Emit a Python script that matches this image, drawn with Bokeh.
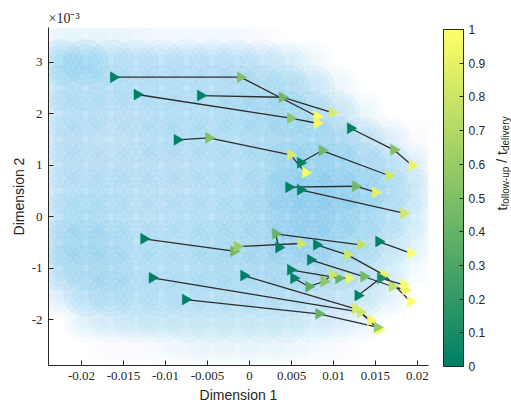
import numpy as np
from bokeh.plotting import figure
from bokeh.layouts import row
from bokeh.models import (Range1d, FixedTicker, NumeralTickFormatter, ColorBar,
                          LinearColorMapper, Label, ColumnDataSource)
from bokeh.transform import transform
from bokeh.embed import file_html
from bokeh.resources import INLINE

# ---------------- data ----------------
# Dimension 1 values of each trajectory
traj_x = [
    [-0.01619, -0.00107, 0.00806],
    [-0.00583, 0.00389, 0.00985],
    [-0.01337, 0.00488, 0.00806],
    [-0.00861, -0.00485, 0.00488, 0.00667],
    [0.00607, 0.00865, 0.01658],
    [0.01202, 0.01718, 0.01937],
    [0.00468, 0.01262, 0.01500],
    [0.00607, 0.01837],
    [-0.01258, -0.00187, -0.00146, 0.00607],
    [0.00349, 0.00310, 0.01321],
    [0.00798, 0.01167, 0.01599, 0.01917],
    [0.00726, 0.01361, 0.01699, 0.01857],
    [0.01539, 0.01917],
    [0.00488, 0.01063, 0.01182],
    [0.00527, 0.00706, 0.00885, 0.00985],
    [0.01292, 0.01560, 0.01837],
    [-0.01158, 0.01321, 0.01539],
    [-0.00762, 0.00825, 0.01520],
    [-0.00068, 0.01262, 0.01440],
]
# Dimension 2 values (x 10^-3)
traj_y = [
    [2.711, 2.711, 1.948],
    [2.355, 2.322, 2.025],
    [2.375, 1.915, 1.817],
    [1.495, 1.534, 1.204, 0.854],
    [1.049, 1.287, 0.802],
    [1.720, 1.301, 0.996],
    [0.575, 0.594, 0.478],
    [0.524, 0.070],
    [-0.427, -0.668, -0.577, -0.518],
    [-0.596, -0.330, -0.544],
    [-0.544, -0.738, -1.126, -1.645],
    [-0.835, -1.159, -1.353, -1.417],
    [-0.480, -0.707],
    [-1.029, -1.192, -1.192],
    [-1.192, -1.353, -1.256, -1.126],
    [-1.528, -1.192, -1.320],
    [-1.184, -1.852, -2.194],
    [-1.606, -1.883, -2.144],
    [-1.140, -1.786, -2.008],
]
# t_follow-up / t_delivery of each point
traj_t = [
    [0.0, 0.50, 1.00],
    [0.0, 0.45, 0.85],
    [0.0, 0.55, 0.95],
    [0.0, 0.50, 0.85, 0.98],
    [0.0, 0.45, 0.80],
    [0.0, 0.50, 0.92],
    [0.0, 0.45, 0.90],
    [0.0, 0.82],
    [0.0, 0.45, 0.60, 0.80],
    [0.0, 0.40, 0.75],
    [0.0, 0.80, 0.92, 1.00],
    [0.0, 0.45, 0.75, 0.95],
    [0.0, 1.00],
    [0.0, 0.40, 0.92],
    [0.0, 0.35, 0.55, 0.80],
    [0.0, 0.10, 0.98],
    [0.0, 0.80, 1.00],
    [0.0, 0.40, 0.60],
    [0.0, 0.85, 0.95],
]

# background sample cloud, as a density grid
cloud_x = [-0.0225, -0.0195, -0.0165, -0.0135, -0.0105, -0.0075, -0.0045, -0.0015,
           0.0015, 0.0045, 0.0075, 0.0105, 0.0135, 0.0165, 0.0195]
cloud_y = [3.5, 3.0, 2.5, 2.0, 1.5, 1.0, 0.5, 0.0, -0.5, -1.0, -1.5, -2.0, -2.5]
cloud_density = [
    [0.15, 0.15, 0.15, 0.12, 0.10, 0.08, 0.08, 0.08, 0.05, 0, 0, 0, 0, 0, 0],
    [0.65, 0.70, 0.50, 0.45, 0.45, 0.45, 0.45, 0.45, 0.40, 0.30, 0.12, 0, 0, 0, 0],
    [0.50, 0.50, 0.50, 0.50, 0.50, 0.50, 0.50, 0.55, 0.55, 0.55, 0.40, 0.15, 0, 0, 0],
    [0.45, 0.50, 0.45, 0.45, 0.50, 0.50, 0.50, 0.55, 0.60, 0.65, 0.55, 0.40, 0.15, 0, 0],
    [0.45, 0.45, 0.40, 0.45, 0.50, 0.50, 0.50, 0.50, 0.55, 0.60, 0.65, 0.60, 0.45, 0.25, 0.05],
    [0.45, 0.45, 0.45, 0.45, 0.45, 0.45, 0.50, 0.50, 0.55, 0.70, 0.75, 0.70, 0.60, 0.50, 0.25],
    [0.45, 0.50, 0.50, 0.45, 0.45, 0.45, 0.50, 0.50, 0.60, 0.80, 0.85, 0.80, 0.70, 0.55, 0.35],
    [0.50, 0.55, 0.50, 0.45, 0.45, 0.50, 0.50, 0.55, 0.60, 0.75, 0.80, 0.75, 0.65, 0.50, 0.30],
    [0.60, 0.65, 0.60, 0.50, 0.50, 0.50, 0.55, 0.55, 0.60, 0.70, 0.75, 0.65, 0.55, 0.40, 0.20],
    [0.55, 0.60, 0.60, 0.50, 0.50, 0.50, 0.55, 0.55, 0.60, 0.60, 0.60, 0.55, 0.45, 0.30, 0.10],
    [0.25, 0.50, 0.55, 0.50, 0.50, 0.50, 0.50, 0.50, 0.50, 0.50, 0.45, 0.40, 0.35, 0.20, 0],
    [0, 0.20, 0.30, 0.35, 0.35, 0.35, 0.35, 0.35, 0.35, 0.35, 0.30, 0.25, 0.15, 0, 0],
    [0, 0, 0.05, 0.05, 0.10, 0.12, 0.15, 0.15, 0.15, 0.12, 0.10, 0.05, 0, 0, 0],
]

x_ticks = [-0.02, -0.015, -0.01, -0.005, 0, 0.005, 0.01, 0.015, 0.02]
y_ticks = [-2, -1, 0, 1, 2, 3]
cbar_ticks = [0, 0.1, 0.2, 0.3, 0.4, 0.5, 0.6, 0.7, 0.8, 0.9, 1]

# ---------------- styling ----------------
INK = "#262626"
summer = ["#%02x%02x%02x" % (int(round(255 * t)), int(round(255 * (0.5 + 0.5 * t))), 102)
          for t in np.linspace(0, 1, 256)]
mapper = LinearColorMapper(palette=summer, low=0, high=1)

p = figure(width=433, height=409, output_backend="svg", toolbar_location=None,
           x_range=Range1d(-0.02393, 0.02131), y_range=Range1d(-2.887, 3.676),
           min_border_left=48, min_border_right=5, min_border_top=27, min_border_bottom=44)
p.outline_line_color = None
p.grid.visible = False
p.border_fill_color = "white"

# x10^-3 multiplier as a left-aligned title
p.title.text = "×10⁻³"
p.title.align = "left"
p.title.text_font = "Liberation Serif"
p.title.text_font_size = "14px"
p.title.text_font_style = "normal"
p.title.text_color = INK
p.title.standoff = 4

# cloud
cx, cy, cd = [], [], []
for i, yv in enumerate(cloud_y):
    for j, xv in enumerate(cloud_x):
        d = cloud_density[i][j]
        if d > 0:
            cx.append(xv); cy.append(yv); cd.append(d)
csrc = ColumnDataSource(dict(x=cx, y=cy))
for k, sz in enumerate([46, 36, 26, 16]):
    csrc.data["a%d" % k] = [0.19 * d for d in cd]
    p.scatter("x", "y", source=csrc, size=sz, marker="circle", fill_color="#4DB3E6",
              fill_alpha="a%d" % k, line_color=None)

# trajectories
p.multi_line(traj_x, traj_y, line_color="#2e2e2e", line_width=1.3)
mx = [v for tr in traj_x for v in tr]
my = [v for tr in traj_y for v in tr]
mt = [v for tr in traj_t for v in tr]
msrc = ColumnDataSource(dict(x=mx, y=my, t=mt))
p.scatter("x", "y", source=msrc, marker="triangle", angle=-np.pi / 2, size=11,
          fill_color=transform("t", mapper), line_color=transform("t", mapper), line_width=0.5)

# axes
p.xaxis.ticker = FixedTicker(ticks=x_ticks)
p.xaxis.formatter = NumeralTickFormatter(format="0.[000]")
p.yaxis.ticker = FixedTicker(ticks=y_ticks)
p.yaxis.formatter = NumeralTickFormatter(format="0")
for ax in (p.xaxis[0], p.yaxis[0]):
    ax.major_tick_in = 5
    ax.major_tick_out = 0
    ax.minor_tick_line_color = None
    ax.axis_line_color = INK
    ax.major_tick_line_color = INK
    ax.major_label_text_font = "Liberation Serif"
    ax.major_label_text_font_size = "13px"
    ax.major_label_text_color = INK
    ax.major_label_standoff = 6
    ax.axis_label_text_font = "Liberation Sans"
    ax.axis_label_text_font_size = "14px"
    ax.axis_label_text_font_style = "normal"
    ax.axis_label_text_color = INK
p.xaxis.axis_label = "Dimension 1"
p.xaxis.axis_label_standoff = 4
p.yaxis.axis_label = "Dimension 2"
p.yaxis.axis_label_standoff = 2

# ---------------- colour bar panel ----------------
c = figure(width=78, height=409, output_backend="svg", toolbar_location=None,
           x_range=Range1d(0, 78), y_range=Range1d(0, 409),
           x_axis_location=None, y_axis_location=None,
           min_border_left=0, min_border_right=0, min_border_top=0, min_border_bottom=0)
c.outline_line_color = None
c.grid.visible = False

cb = ColorBar(color_mapper=mapper, width=20, height=337, location=(10, -1), padding=0, margin=0,
              ticker=FixedTicker(ticks=cbar_ticks), formatter=NumeralTickFormatter(format="0.[0]"),
              major_tick_in=4, major_tick_out=0, major_tick_line_color=INK,
              bar_line_color=INK, border_line_color=None, background_fill_color=None,
              label_standoff=5, major_label_text_font="Liberation Sans",
              major_label_text_font_size="12px", major_label_text_color=INK)
c.add_layout(cb)

# colour bar title: t_follow-up / t_delivery (rotated, reading upwards)
def rlabel(text, x, y, size):
    c.add_layout(Label(x=x, y=y, x_units="screen", y_units="screen", text=text, angle=np.pi / 2,
                       text_font="Liberation Sans", text_font_size=size, text_color=INK,
                       text_align="left", text_baseline="alphabetic"))

rlabel("t", 68, 155, "14px")
rlabel("follow-up", 72, 158.9, "10px")
rlabel("/ t", 68, 202.8, "14px")
rlabel("delivery", 72, 214.5, "10px")

layout = row(p, c, spacing=0)
open("out.html", "w").write(file_html(layout, INLINE))
